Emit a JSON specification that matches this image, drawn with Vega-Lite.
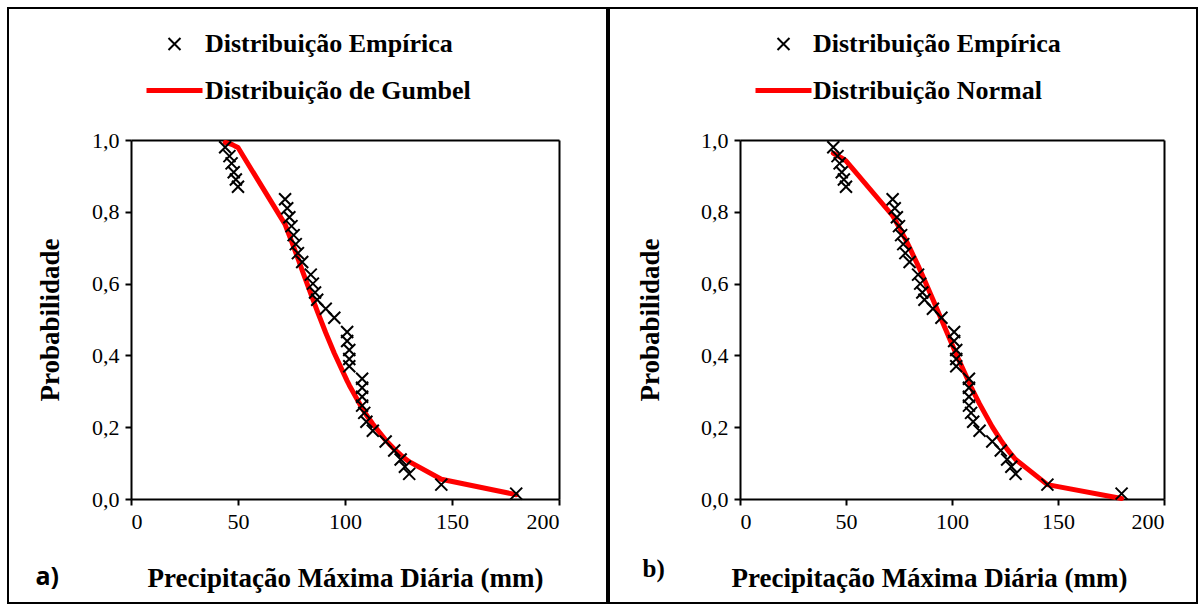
{
  "$schema": "https://vega.github.io/schema/vega-lite/v6.json",
  "background": "white",
  "padding": {"left": 7, "top": 7, "right": 7, "bottom": 6},
  "spacing": 0,
  "datasets": {
    "emp": [
      {"x": 180, "p": 0.015}, {"x": 145, "p": 0.04}, {"x": 130, "p": 0.07}, {"x": 128, "p": 0.09},
      {"x": 126, "p": 0.11}, {"x": 123, "p": 0.135}, {"x": 119, "p": 0.16}, {"x": 113, "p": 0.19},
      {"x": 110, "p": 0.215}, {"x": 109, "p": 0.24}, {"x": 108, "p": 0.26}, {"x": 108, "p": 0.285},
      {"x": 108, "p": 0.31}, {"x": 108, "p": 0.335}, {"x": 102, "p": 0.37}, {"x": 102, "p": 0.39},
      {"x": 102, "p": 0.415}, {"x": 101, "p": 0.44}, {"x": 101, "p": 0.465}, {"x": 95, "p": 0.505},
      {"x": 91, "p": 0.53}, {"x": 87, "p": 0.555}, {"x": 86, "p": 0.575}, {"x": 85, "p": 0.6},
      {"x": 84, "p": 0.625}, {"x": 80, "p": 0.66}, {"x": 78, "p": 0.685}, {"x": 77, "p": 0.71},
      {"x": 76, "p": 0.735}, {"x": 75, "p": 0.76}, {"x": 74, "p": 0.785}, {"x": 73, "p": 0.81},
      {"x": 72, "p": 0.835}, {"x": 50, "p": 0.87}, {"x": 49, "p": 0.89}, {"x": 48, "p": 0.91},
      {"x": 47, "p": 0.935}, {"x": 46, "p": 0.955}, {"x": 44, "p": 0.98}
    ],
    "gumbel": [
      {"x": 44, "p": 0.993}, {"x": 46, "p": 0.99}, {"x": 47, "p": 0.988}, {"x": 48, "p": 0.985},
      {"x": 49, "p": 0.982}, {"x": 50, "p": 0.979}, {"x": 72, "p": 0.765}, {"x": 73, "p": 0.749},
      {"x": 74, "p": 0.734}, {"x": 75, "p": 0.718}, {"x": 76, "p": 0.702}, {"x": 77, "p": 0.686},
      {"x": 78, "p": 0.67}, {"x": 80, "p": 0.637}, {"x": 84, "p": 0.572}, {"x": 85, "p": 0.556},
      {"x": 86, "p": 0.54}, {"x": 87, "p": 0.524}, {"x": 91, "p": 0.463}, {"x": 95, "p": 0.406},
      {"x": 101, "p": 0.329}, {"x": 102, "p": 0.317}, {"x": 108, "p": 0.253}, {"x": 109, "p": 0.244},
      {"x": 110, "p": 0.234}, {"x": 113, "p": 0.209}, {"x": 119, "p": 0.164}, {"x": 123, "p": 0.139},
      {"x": 126, "p": 0.123}, {"x": 128, "p": 0.113}, {"x": 130, "p": 0.104}, {"x": 145, "p": 0.055},
      {"x": 180, "p": 0.012}
    ],
    "normal": [
      {"x": 44, "p": 0.963}, {"x": 46, "p": 0.957}, {"x": 47, "p": 0.953}, {"x": 48, "p": 0.95},
      {"x": 49, "p": 0.946}, {"x": 50, "p": 0.942}, {"x": 72, "p": 0.789}, {"x": 73, "p": 0.779},
      {"x": 74, "p": 0.768}, {"x": 75, "p": 0.758}, {"x": 76, "p": 0.747}, {"x": 77, "p": 0.735},
      {"x": 78, "p": 0.724}, {"x": 80, "p": 0.7}, {"x": 84, "p": 0.65}, {"x": 85, "p": 0.637},
      {"x": 86, "p": 0.624}, {"x": 87, "p": 0.61}, {"x": 91, "p": 0.556}, {"x": 95, "p": 0.5},
      {"x": 101, "p": 0.417}, {"x": 102, "p": 0.403}, {"x": 108, "p": 0.325}, {"x": 109, "p": 0.312},
      {"x": 110, "p": 0.3}, {"x": 113, "p": 0.265}, {"x": 119, "p": 0.201}, {"x": 123, "p": 0.164},
      {"x": 126, "p": 0.139}, {"x": 128, "p": 0.124}, {"x": 130, "p": 0.11}, {"x": 145, "p": 0.04},
      {"x": 180, "p": 0.0015}
    ]
  },
  "resolve": {
    "scale": {"color": "independent", "shape": "independent", "size": "independent", "strokeWidth": "independent"},
    "legend": {"color": "independent", "shape": "independent", "size": "independent", "strokeWidth": "independent"}
  },
  "hconcat": [
    {
      "width": 599,
      "height": 595,
      "layer": [
        {
          "data": {"name": "gumbel"},
          "mark": {"type": "line", "strokeCap": "round", "strokeJoin": "round"},
          "encoding": {
            "x": {"field": "x", "type": "quantitative",
              "scale": {"domain": [0, 200], "range": [123, 551], "nice": false, "zero": false},
              "axis": {"orient": "bottom", "offset": -104, "values": [0, 50, 100, 150, 200], "tickSize": 6, "labelPadding": 6,
                "title": "Precipitação Máxima Diária (mm)", "titleY": 79, "titleBaseline": "middle"}},
            "y": {"field": "p", "type": "quantitative",
              "scale": {"domain": [0, 1], "range": [491, 132], "nice": false, "zero": false},
              "axis": {"orient": "left", "offset": -123, "values": [0, 0.2, 0.4, 0.6, 0.8, 1], "tickSize": 6, "labelPadding": 6,
                "labelExpr": "replace(format(datum.value, '.1f'), '.', ',')",
                "title": "Probabilidade", "titleX": -81, "titleBaseline": "middle"}},
            "color": {"datum": "Distribuição de Gumbel", "type": "nominal",
              "scale": {"domain": ["Distribuição Empírica", "Distribuição de Gumbel"], "range": ["black", "#ff0000"]},
              "legend": {"orient": "none", "legendX": 150, "legendY": 23, "title": null, "labelOffset": 14, "rowPadding": 17, "padding": 0}},
            "strokeWidth": {"datum": "Distribuição de Gumbel", "type": "nominal",
              "scale": {"type": "ordinal", "domain": ["Distribuição Empírica", "Distribuição de Gumbel"], "range": [2, 5]},
              "legend": {"orient": "none", "legendX": 150, "legendY": 23, "title": null, "labelOffset": 14, "rowPadding": 17, "padding": 0}}
          }
        },
        {
          "data": {"name": "emp"},
          "mark": {"type": "point", "filled": false, "opacity": 1},
          "encoding": {
            "x": {"field": "x", "type": "quantitative",
              "scale": {"domain": [0, 200], "range": [123, 551], "nice": false, "zero": false},
              "axis": {"orient": "top", "offset": -132, "labels": false, "ticks": false,
                "title": "a)", "titleX": 27, "titleY": 436, "titleAlign": "left", "titleBaseline": "middle",
                "titleFont": "Open Sans", "titleFontSize": 25, "titleFontWeight": "bold"}},
            "y": {"field": "p", "type": "quantitative",
              "scale": {"domain": [0, 1], "range": [491, 132], "nice": false, "zero": false},
              "axis": {"orient": "right", "offset": -48, "labels": false, "ticks": false, "title": null}},
            "color": {"datum": "Distribuição Empírica", "type": "nominal",
              "scale": {"domain": ["Distribuição Empírica", "Distribuição de Gumbel"], "range": ["black", "#ff0000"]},
              "legend": {"orient": "none", "legendX": 150, "legendY": 23, "title": null, "labelOffset": 14, "rowPadding": 17, "padding": 0}},
            "shape": {"datum": "Distribuição Empírica", "type": "nominal",
              "scale": {"domain": ["Distribuição Empírica", "Distribuição de Gumbel"], "range": ["M-1,-1L1,1M-1,1L1,-1", "M-2,0L2,0"]},
              "legend": {"orient": "none", "legendX": 150, "legendY": 23, "title": null, "labelOffset": 14, "rowPadding": 17, "padding": 0}},
            "size": {"datum": "Distribuição Empírica", "type": "nominal",
              "scale": {"type": "ordinal", "domain": ["Distribuição Empírica", "Distribuição de Gumbel"], "range": [144, 784]},
              "legend": {"orient": "none", "legendX": 150, "legendY": 23, "title": null, "labelOffset": 14, "rowPadding": 17, "padding": 0}},
            "strokeWidth": {"datum": "Distribuição Empírica", "type": "nominal",
              "scale": {"type": "ordinal", "domain": ["Distribuição Empírica", "Distribuição de Gumbel"], "range": [2, 5]},
              "legend": {"orient": "none", "legendX": 150, "legendY": 23, "title": null, "labelOffset": 14, "rowPadding": 17, "padding": 0}}
          }
        }
      ],
      "resolve": {"axis": {"x": "independent", "y": "independent"}}
    },
    {
      "width": 588,
      "height": 595,
      "layer": [
        {
          "data": {"name": "normal"},
          "mark": {"type": "line", "strokeCap": "round", "strokeJoin": "round"},
          "encoding": {
            "x": {"field": "x", "type": "quantitative",
              "scale": {"domain": [0, 200], "range": [131, 555], "nice": false, "zero": false},
              "axis": {"orient": "bottom", "offset": -104, "values": [0, 50, 100, 150, 200], "tickSize": 6, "labelPadding": 6,
                "title": "Precipitação Máxima Diária (mm)", "titleX": 320, "titleY": 79, "titleBaseline": "middle"}},
            "y": {"field": "p", "type": "quantitative",
              "scale": {"domain": [0, 1], "range": [491, 132], "nice": false, "zero": false},
              "axis": {"orient": "left", "offset": -131, "values": [0, 0.2, 0.4, 0.6, 0.8, 1], "tickSize": 6, "labelPadding": 6,
                "labelExpr": "replace(format(datum.value, '.1f'), '.', ',')",
                "title": "Probabilidade", "titleX": -90, "titleBaseline": "middle"}},
            "color": {"datum": "Distribuição Normal", "type": "nominal",
              "scale": {"domain": ["Distribuição Empírica", "Distribuição Normal"], "range": ["black", "#ff0000"]},
              "legend": {"orient": "none", "legendX": 158, "legendY": 23, "title": null, "labelOffset": 13, "rowPadding": 17, "padding": 0}},
            "strokeWidth": {"datum": "Distribuição Normal", "type": "nominal",
              "scale": {"type": "ordinal", "domain": ["Distribuição Empírica", "Distribuição Normal"], "range": [2, 5]},
              "legend": {"orient": "none", "legendX": 158, "legendY": 23, "title": null, "labelOffset": 13, "rowPadding": 17, "padding": 0}}
          }
        },
        {
          "data": {"name": "emp"},
          "mark": {"type": "point", "filled": false, "opacity": 1},
          "encoding": {
            "x": {"field": "x", "type": "quantitative",
              "scale": {"domain": [0, 200], "range": [131, 555], "nice": false, "zero": false},
              "axis": {"orient": "top", "offset": -132, "labels": false, "ticks": false,
                "title": "b)", "titleX": 33, "titleY": 428, "titleAlign": "left", "titleBaseline": "middle",
                "titleFont": "Liberation Serif", "titleFontSize": 25, "titleFontWeight": "bold"}},
            "y": {"field": "p", "type": "quantitative",
              "scale": {"domain": [0, 1], "range": [491, 132], "nice": false, "zero": false},
              "axis": {"orient": "right", "offset": -33, "labels": false, "ticks": false, "title": null}},
            "color": {"datum": "Distribuição Empírica", "type": "nominal",
              "scale": {"domain": ["Distribuição Empírica", "Distribuição Normal"], "range": ["black", "#ff0000"]},
              "legend": {"orient": "none", "legendX": 158, "legendY": 23, "title": null, "labelOffset": 13, "rowPadding": 17, "padding": 0}},
            "shape": {"datum": "Distribuição Empírica", "type": "nominal",
              "scale": {"domain": ["Distribuição Empírica", "Distribuição Normal"], "range": ["M-1,-1L1,1M-1,1L1,-1", "M-2,0L2,0"]},
              "legend": {"orient": "none", "legendX": 158, "legendY": 23, "title": null, "labelOffset": 13, "rowPadding": 17, "padding": 0}},
            "size": {"datum": "Distribuição Empírica", "type": "nominal",
              "scale": {"type": "ordinal", "domain": ["Distribuição Empírica", "Distribuição Normal"], "range": [144, 784]},
              "legend": {"orient": "none", "legendX": 158, "legendY": 23, "title": null, "labelOffset": 13, "rowPadding": 17, "padding": 0}},
            "strokeWidth": {"datum": "Distribuição Empírica", "type": "nominal",
              "scale": {"type": "ordinal", "domain": ["Distribuição Empírica", "Distribuição Normal"], "range": [2, 5]},
              "legend": {"orient": "none", "legendX": 158, "legendY": 23, "title": null, "labelOffset": 13, "rowPadding": 17, "padding": 0}}
          }
        }
      ],
      "resolve": {"axis": {"x": "independent", "y": "independent"}}
    }
  ],
  "config": {
    "view": {"stroke": "black", "strokeWidth": 2},
    "axis": {
      "grid": false, "domainColor": "black", "domainWidth": 2, "tickColor": "black", "tickWidth": 2,
      "labelFont": "Liberation Serif", "labelFontSize": 22, "labelColor": "black",
      "titleFont": "Liberation Serif", "titleFontSize": 27, "titleFontWeight": "bold", "titleColor": "black"
    },
    "legend": {
      "labelFont": "Liberation Serif", "labelFontSize": 26, "labelFontWeight": "bold", "labelColor": "black", "labelLimit": 0
    }
  }
}
